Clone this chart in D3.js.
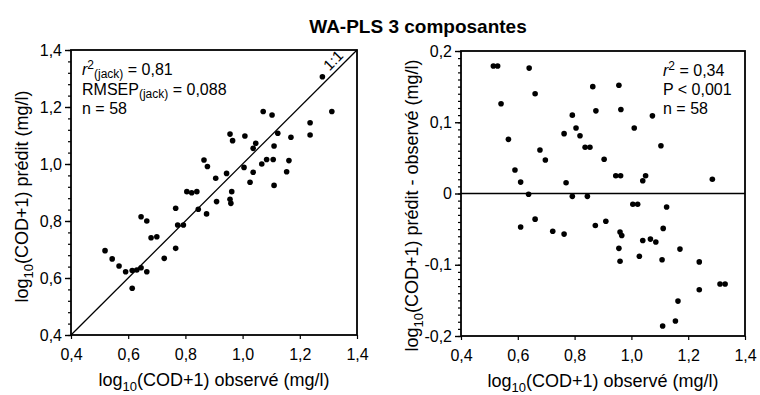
<!DOCTYPE html>
<html>
<head>
<meta charset="utf-8">
<script src="https://cdn.jsdelivr.net/npm/d3@7"></script>
<style>
    body { margin: 0; background: #fff; }
    svg text { font-family: "Liberation Sans", Arial, Helvetica, sans-serif; fill: #000; }
</style>
</head>
<body>
<div id="wrapper"></div>
<script>
// left panel: observed vs predicted (jackknife)
const obsLeft = [1.279, 1.312, 1.072, 1.103, 1.236, 1.236, 0.956, 1.008, 0.965, 1.046,
    1.037, 1.123, 1.169, 1.110, 1.084, 1.107, 1.067, 1.162, 0.865, 0.877,
    1.005, 1.037, 1.154, 0.944, 0.906, 1.026, 1.110, 0.805, 0.822, 0.840,
    0.962, 0.909, 0.956, 0.959, 0.766, 0.845, 0.874, 0.645, 0.665, 0.773,
    0.793, 0.680, 0.700, 0.766, 0.726, 0.519, 0.544, 0.568, 0.591, 0.614,
    0.630, 0.645, 0.665, 0.614]
const predLeft = [1.306, 1.184, 1.184, 1.172, 1.145, 1.102, 1.105, 1.098, 1.082, 1.073,
    1.055, 1.108, 1.094, 1.063, 1.016, 1.016, 1.000, 1.012, 1.014, 0.991,
    0.988, 0.971, 0.973, 0.967, 0.950, 0.936, 0.925, 0.903, 0.899, 0.903,
    0.903, 0.868, 0.876, 0.862, 0.845, 0.841, 0.825, 0.815, 0.800, 0.786,
    0.786, 0.741, 0.745, 0.704, 0.669, 0.696, 0.667, 0.642, 0.622, 0.626,
    0.628, 0.636, 0.622, 0.564]

// right panel: observed vs residual (predicted - observed)
const obsRight = [0.514, 0.529, 0.640, 0.661, 0.541, 0.864, 0.956, 0.875, 0.963, 0.792,
    1.074, 0.805, 1.010, 0.763, 0.819, 0.567, 1.104, 0.837, 0.854, 0.678,
    0.697, 0.904, 0.590, 0.945, 0.962, 1.050, 1.040, 1.285, 0.610, 0.770,
    0.638, 0.792, 0.845, 1.005, 1.022, 1.124, 0.610, 0.661, 0.723, 0.763,
    0.873, 0.910, 0.960, 0.966, 1.112, 1.040, 1.067, 1.086, 0.956, 1.171,
    1.028, 0.960, 1.108, 1.239, 1.312, 1.330, 1.239, 1.164, 1.155, 1.110]
const residRight = [0.179, 0.179, 0.176, 0.140, 0.126, 0.150, 0.152, 0.116, 0.118, 0.110,
    0.109, 0.092, 0.092, 0.084, 0.081, 0.076, 0.067, 0.065, 0.065, 0.061,
    0.047, 0.048, 0.033, 0.025, 0.025, 0.025, 0.018, 0.020, 0.016, 0.015,
    -0.001, -0.004, -0.004, -0.015, -0.015, -0.019, -0.047, -0.036, -0.053, -0.057,
    -0.045, -0.039, -0.054, -0.059, -0.049, -0.066, -0.064, -0.068, -0.077, -0.078,
    -0.088, -0.095, -0.093, -0.096, -0.127, -0.127, -0.135, -0.151, -0.179, -0.186]

const xTicks = [0.4, 0.6, 0.8, 1.0, 1.2, 1.4]
const yTicksLeft = [0.4, 0.6, 0.8, 1.0, 1.2, 1.4]
const yTicksRight = [-0.2, -0.1, 0, 0.1, 0.2]

const title = "WA-PLS 3 composantes"
const statsLeft = ["0,81", "0,088", "58"]
const statsRight = ["0,34", "0,001", "58"]

const fr = d3.formatLocale({decimal: ",", thousands: ".", grouping: [3], currency: ["", ""], minus: "-"})
const fmt = v => v === 0 ? "0" : fr.format(".1f")(v)

const svg = d3.select("#wrapper")
    .append("svg")
    .attr("width", 760)
    .attr("height", 395);

svg.append("text")
    .attr("x", 418)
    .attr("y", 33)
    .attr("text-anchor", "middle")
    .attr("font-size", "19px")
    .attr("font-weight", "bold")
    .text(title);

// label with subscript 10
function logLabel(sel, rest) {
    sel.append("tspan").text("log");
    sel.append("tspan").attr("font-size", "13px").attr("dy", 5).text("10");
    sel.append("tspan").attr("dy", -5).text(rest);
}

function panel(p) {
    const g = svg.append("g").attr("transform", `translate(${p.left},${p.top})`);

    const xScaler = d3.scaleLinear().domain([0.4, 1.4]).range([0, p.width]);
    const yScaler = d3.scaleLinear().domain(p.yDomain).range([p.height, 0]);

    // minor y ticks
    g.append("g")
        .call(d3.axisLeft(yScaler).tickValues(p.minor).tickSize(3).tickFormat(""))
        .call(a => a.select(".domain").remove())
        .selectAll("line").attr("stroke-width", 1.2);

    const yAxis = g.append("g")
        .call(d3.axisLeft(yScaler).tickValues(p.yTicks).tickSize(6).tickPadding(3).tickFormat(fmt));
    yAxis.select(".domain").remove();
    yAxis.selectAll("line").attr("stroke-width", 1.4);
    yAxis.selectAll("text").attr("font-size", "16px").attr("font-family", null);

    const xAxis = g.append("g")
        .attr("transform", `translate(0,${p.height})`)
        .call(d3.axisBottom(xScaler).tickValues(xTicks).tickSize(4).tickPadding(10).tickFormat(fmt));
    xAxis.select(".domain").remove();
    xAxis.selectAll("line").attr("stroke-width", 1.2);
    xAxis.selectAll("text").attr("font-size", "16px").attr("font-family", null);

    // frame
    g.append("rect")
        .attr("width", p.width)
        .attr("height", p.height)
        .attr("fill", "none")
        .attr("stroke", "black")
        .attr("stroke-width", 1.8);

    // x label
    g.append("text")
        .attr("x", p.width / 2)
        .attr("y", p.height + 51)
        .attr("text-anchor", "middle")
        .attr("font-size", "18px")
        .call(logLabel, "(COD+1) observé (mg/l)");

    // y label
    g.append("text")
        .attr("transform", `translate(${p.yLabelX},${p.height / 2 + p.yLabelShift}) rotate(-90)`)
        .attr("text-anchor", "middle")
        .attr("font-size", "18px")
        .call(logLabel, p.yLabel);

    g.append("g")
        .selectAll("circle")
        .data(p.xs)
        .enter()
        .append("circle")
        .attr("cx", (d, i) => xScaler(d))
        .attr("cy", (d, i) => yScaler(p.ys[i]))
        .attr("r", 2.8)
        .attr("fill", "black");

    return {g, xScaler, yScaler};
}

// left panel
const L = panel({
    left: 71, top: 50, width: 286, height: 285,
    yDomain: [0.4, 1.4], yTicks: yTicksLeft,
    minor: d3.range(0, 26).map(i => 0.4 + i * 0.04),
    xs: obsLeft, ys: predLeft,
    yLabelX: -43, yLabelShift: 4, yLabel: "(COD+1) prédit (mg/l)"
});

L.g.append("line")
    .attr("x1", L.xScaler(0.4)).attr("y1", L.yScaler(0.4))
    .attr("x2", L.xScaler(1.4)).attr("y2", L.yScaler(1.4))
    .attr("stroke", "black")
    .attr("stroke-width", 1.3);

L.g.append("text")
    .attr("transform", `translate(${L.xScaler(1.34) - 3},${L.yScaler(1.34) - 3}) rotate(-45)`)
    .attr("text-anchor", "middle")
    .attr("font-size", "15px")
    .text("1:1");

const ann = L.g.append("g").attr("font-size", "16px");
const t1 = ann.append("text").attr("x", 11).attr("y", 25);
t1.append("tspan").attr("font-style", "italic").text("r");
t1.append("tspan").attr("font-size", "12px").attr("dy", -6).text("2");
t1.append("tspan").attr("font-size", "12px").attr("dy", 9).text("(jack)");
t1.append("tspan").attr("dy", -3).text(" = " + statsLeft[0]);
const t2 = ann.append("text").attr("x", 11).attr("y", 45);
t2.append("tspan").text("RMSEP");
t2.append("tspan").attr("font-size", "12px").attr("dy", 3).text("(jack)");
t2.append("tspan").attr("dy", -3).text(" = " + statsLeft[1]);
ann.append("text").attr("x", 11).attr("y", 64).text("n = " + statsLeft[2]);

// right panel
const R = panel({
    left: 461, top: 51, width: 284, height: 285,
    yDomain: [-0.2, 0.2], yTicks: yTicksRight,
    minor: d3.range(0, 41).map(i => -0.2 + i * 0.01),
    xs: obsRight, ys: residRight,
    yLabelX: -43, yLabelShift: 12, yLabel: "(COD+1) prédit - observé (mg/l)"
});

R.g.append("line")
    .attr("x1", 0).attr("y1", R.yScaler(0))
    .attr("x2", R.xScaler(1.4)).attr("y2", R.yScaler(0))
    .attr("stroke", "black")
    .attr("stroke-width", 1.5);

const ann2 = R.g.append("g").attr("font-size", "16px");
const s1 = ann2.append("text").attr("x", 202).attr("y", 25);
s1.append("tspan").attr("font-style", "italic").text("r");
s1.append("tspan").attr("font-size", "12px").attr("dy", -6).text("2");
s1.append("tspan").attr("dy", 6).text(" = " + statsRight[0]);
ann2.append("text").attr("x", 202).attr("y", 44).text("P < " + statsRight[1]);
ann2.append("text").attr("x", 202).attr("y", 63).text("n = " + statsRight[2]);
</script>
</body>
</html>
